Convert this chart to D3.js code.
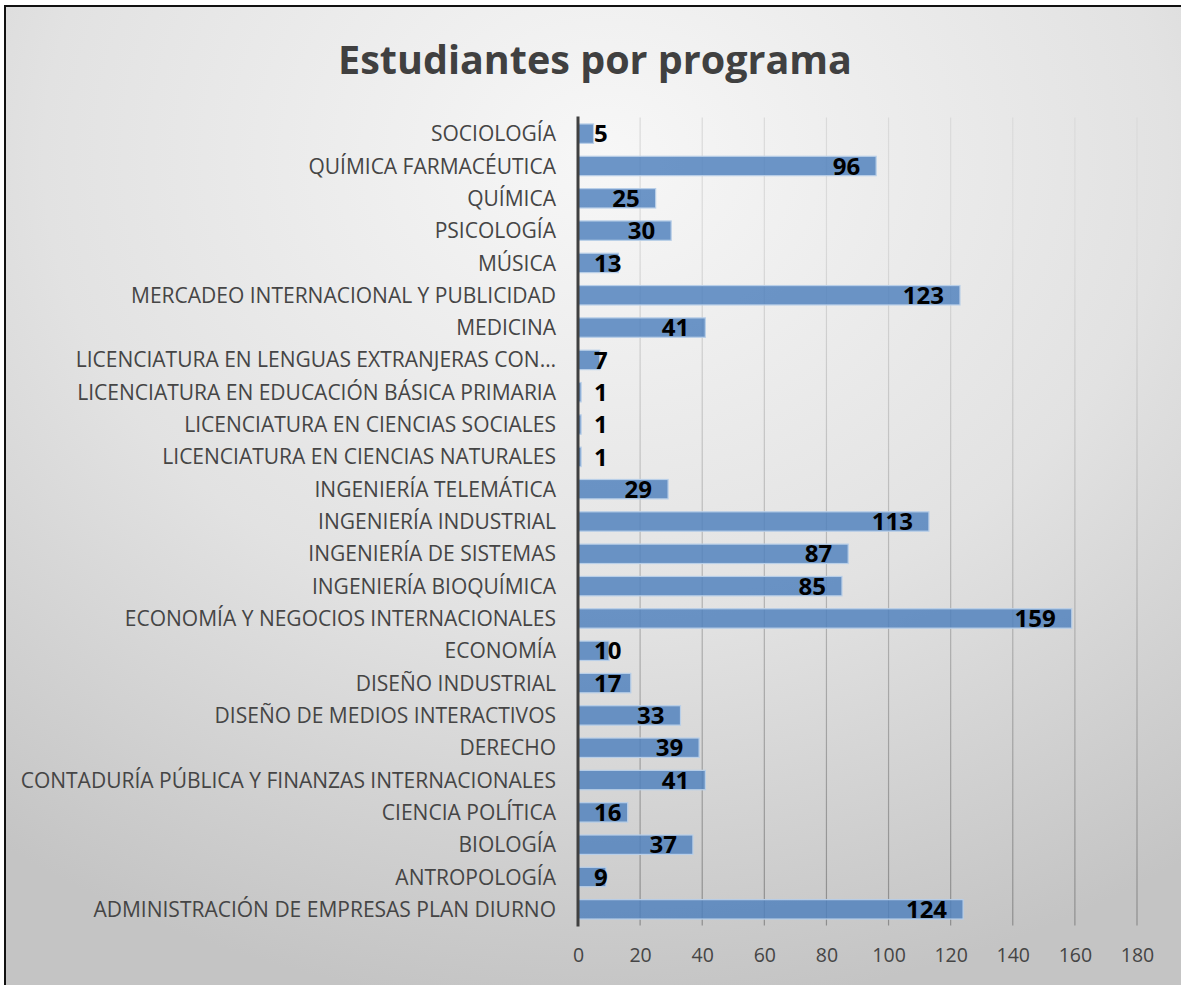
<!DOCTYPE html>
<meta charset="utf-8">
<head>
  <title>Estudiantes por programa</title>
  <style>
    body { margin: 0; background: #fff; }
    svg { display: block; }
    .cat text { font: 21px "Open Sans"; fill: #454545; }
    .xaxis text { font: 19.5px "Open Sans"; fill: #454545; }
    .title { font: bold 39.5px "Open Sans"; fill: #404040; }
    .labels { font: bold 24px "Open Sans"; fill: #000; }
  </style>
</head>
<body>
<script src="https://cdn.jsdelivr.net/npm/d3@7"></script>
<script>

// programs, in the sheet's order (bottom bar first)
var programs = [
  "ADMINISTRACIÓN DE EMPRESAS PLAN DIURNO",
  "ANTROPOLOGÍA",
  "BIOLOGÍA",
  "CIENCIA POLÍTICA",
  "CONTADURÍA PÚBLICA Y FINANZAS INTERNACIONALES",
  "DERECHO",
  "DISEÑO DE MEDIOS INTERACTIVOS",
  "DISEÑO INDUSTRIAL",
  "ECONOMÍA",
  "ECONOMÍA Y NEGOCIOS INTERNACIONALES",
  "INGENIERÍA BIOQUÍMICA",
  "INGENIERÍA DE SISTEMAS",
  "INGENIERÍA INDUSTRIAL",
  "INGENIERÍA TELEMÁTICA",
  "LICENCIATURA EN CIENCIAS NATURALES",
  "LICENCIATURA EN CIENCIAS SOCIALES",
  "LICENCIATURA EN EDUCACIÓN BÁSICA PRIMARIA",
  "LICENCIATURA EN LENGUAS EXTRANJERAS CON…",
  "MEDICINA",
  "MERCADEO INTERNACIONAL Y PUBLICIDAD",
  "MÚSICA",
  "PSICOLOGÍA",
  "QUÍMICA",
  "QUÍMICA FARMACÉUTICA",
  "SOCIOLOGÍA"
];
var students = [124, 9, 37, 16, 41, 39, 33, 17, 10, 159, 85, 87, 113, 29,
                1, 1, 1, 7, 41, 123, 13, 30, 25, 96, 5];
var xTicks = [0, 20, 40, 60, 80, 100, 120, 140, 160, 180];

var W = 1181, H = 985;
var margin = {top: 117.5, left: 578, right: 44, bottom: 60};
var plotW = 1137 - margin.left,
    plotH = 925.5 - margin.top;

var data = programs.map(function(p, i) { return {name: p, value: students[i]}; });

var svg = d3.select("body").append("svg")
    .attr("width", W)
    .attr("height", H);

var defs = svg.append("defs");
var bg = defs.append("radialGradient")
    .attr("id", "bg")
    .attr("cx", "50%").attr("cy", "15%").attr("r", "85%");
bg.append("stop").attr("offset", "0%").attr("stop-color", "#f7f7f7");
bg.append("stop").attr("offset", "55%").attr("stop-color", "#e2e2e2");
bg.append("stop").attr("offset", "100%").attr("stop-color", "#c4c4c4");

var gridGrad = defs.append("linearGradient")
    .attr("id", "grid")
    .attr("gradientUnits", "userSpaceOnUse")
    .attr("x1", 0).attr("y1", margin.top)
    .attr("x2", 0).attr("y2", margin.top + plotH);
gridGrad.append("stop").attr("offset", "0%").attr("stop-color", "#dadada");
gridGrad.append("stop").attr("offset", "100%").attr("stop-color", "#808080");

// background + frame
svg.append("rect")
    .attr("x", 5).attr("y", 6)
    .attr("width", W + 20).attr("height", H + 20)
    .attr("fill", "url(#bg)")
    .attr("stroke", "#111")
    .attr("stroke-width", 2);

svg.append("text")
    .attr("class", "title")
    .attr("x", 595)
    .attr("y", 74)
    .attr("text-anchor", "middle")
    .text("Estudiantes por programa");

var g = svg.append("g")
    .attr("transform", "translate(" + margin.left + "," + margin.top + ")");

var x = d3.scaleLinear()
    .domain([0, 180])
    .range([0, plotW]);
var y = d3.scaleBand()
    .domain(programs.slice().reverse())
    .range([0, plotH])
    .paddingInner(0.4)
    .paddingOuter(0.2);

// vertical gridlines
g.selectAll(".gridline")
    .data(xTicks.slice(1))
    .enter().append("line")
    .attr("class", "gridline")
    .attr("x1", function(d) { return x(d); })
    .attr("x2", function(d) { return x(d); })
    .attr("y1", 0)
    .attr("y2", plotH)
    .attr("stroke", "url(#grid)")
    .attr("stroke-width", 1.2);

// bars
g.selectAll(".bar")
    .data(data)
    .enter().append("rect")
    .attr("class", "bar")
    .attr("x", x(0))
    .attr("y", function(d) { return y(d.name); })
    .attr("width", function(d) { return x(d.value) - x(0); })
    .attr("height", y.bandwidth())
    .attr("fill", "#4f81bd")
    .attr("fill-opacity", 0.83)
    .attr("stroke", "#b9cfe8")
    .attr("stroke-width", 1.2);

// category axis
var yAxis = g.append("g")
    .attr("class", "cat")
    .call(d3.axisLeft(y).tickSize(0).tickPadding(22));
yAxis.select(".domain").remove();
yAxis.selectAll("text").attr("dy", "0.36em");

g.append("line")
    .attr("x1", x(0)).attr("x2", x(0))
    .attr("y1", -1).attr("y2", plotH + 1)
    .attr("stroke", "#404040")
    .attr("stroke-width", 3);

// value axis
var xAxis = g.append("g")
    .attr("class", "xaxis")
    .attr("transform", "translate(0," + plotH + ")")
    .call(d3.axisBottom(x).tickValues(xTicks).tickSize(0).tickPadding(23));
xAxis.select(".domain").remove();

// value labels, inside end of the bar, pushed out when the bar is short
g.selectAll(".labels")
    .data(data)
    .enter().append("text")
    .attr("class", "labels")
    .attr("y", function(d) { return y(d.name) + y.bandwidth() / 2; })
    .attr("dy", "0.36em")
    .attr("text-anchor", "start")
    .text(function(d) { return d.value; })
    .attr("x", function(d) {
      var w = this.getComputedTextLength();
      var right = x(d.value) - 16;
      return Math.max(right - w, 16);
    });

</script>
</body>
